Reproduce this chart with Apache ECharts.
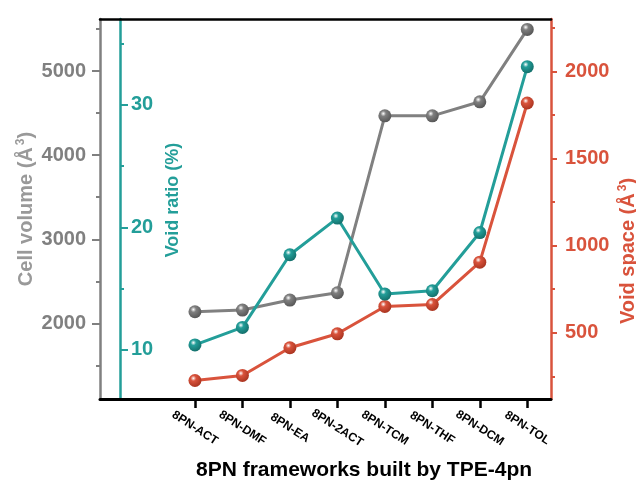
<!DOCTYPE html>
<html>
<head>
<meta charset="utf-8">
<script src="https://cdn.jsdelivr.net/npm/echarts@6/dist/echarts.min.js"></script>
<style>html,body{margin:0;padding:0;background:#fff}#c{width:636px;height:485px}</style>
</head>
<body>
<div id="c"></div>
<script>
const categories = ['8PN-ACT','8PN-DMF','8PN-EA','8PN-2ACT','8PN-TCM','8PN-THF','8PN-DCM','8PN-TOL'];
const cellVolume = [2138, 2158, 2277, 2364, 4468, 4468, 4635, 5496];
const voidRatio = [10.41, 11.84, 17.77, 20.76, 14.56, 14.83, 19.58, 33.11];
const voidSpace = [226, 255, 414, 494, 651, 662, 905, 1818];
const cellTicks = [2000, 3000, 4000, 5000];
const cellMinor = [1500, 2500, 3500, 4500, 5500];
const ratioTicks = [10, 20, 30];
const ratioMinor = [15, 25, 35];
const spaceTicks = [500, 1000, 1500, 2000];
const spaceMinor = [250, 750, 1250, 1750, 2250];

const FONT = "'Liberation Sans', Arial, sans-serif";
const GRAY = '#808080', TEAL = '#239E99', RED = '#D9533C';
const catIdx = categories.map((_, i) => i);

function sphere(base, dark) {
  return {type: 'radial', x: 0.38, y: 0.33, r: 0.7,
    colorStops: [{offset: 0, color: '#ffffff'}, {offset: 0.3, color: base}, {offset: 1, color: dark}]};
}
function pairs(arr) { return arr.map((v, i) => [i, v]); }
const plain = v => String(v);

const chart = echarts.init(document.getElementById('c'), null, {renderer: 'canvas'});
const supRich = {sup: {fontSize: 12, verticalAlign: 'top', padding: [0, 0, 10, 2], fontWeight: 'bold', fontFamily: FONT}};

function minorAxis(min, max, color, vals, pos, offset, inside) {
  return {
    type: 'value', min: min, max: max, position: pos, offset: offset,
    axisLine: {show: false, onZero: false}, splitLine: {show: false},
    axisLabel: {show: false},
    axisTick: {show: true, length: 4, inside: inside, customValues: vals, lineStyle: {color: color, width: 2}}
  };
}

chart.setOption({
  animation: false,
  grid: {left: 100, right: 85, top: 19, bottom: 86, containLabel: false, outerBoundsMode: 'none'},
  xAxis: [{
    type: 'value', min: -2, max: 7.5, position: 'bottom',
    splitLine: {show: false},
    axisLine: {show: true, onZero: false, lineStyle: {color: '#000', width: 3}},
    axisTick: {show: true, length: 9, customValues: catIdx, lineStyle: {color: '#000', width: 2.5}},
    axisLabel: {
      show: true, customValues: catIdx, rotate: -33, align: 'center', verticalAlign: 'middle', margin: 29,
      formatter: v => categories[Math.round(v)] || '',
      fontSize: 12, fontWeight: 'bold', color: '#000', fontFamily: FONT
    },
    name: '8PN frameworks built by TPE-4pn', nameLocation: 'middle', nameGap: 61, nameMoveOverlap: false,
    nameTextStyle: {fontSize: 21, fontWeight: 'bold', color: '#000', fontFamily: FONT, padding: [0, 0, 0, 77]}
  }, {
    type: 'value', min: -2, max: 7.5, position: 'top',
    splitLine: {show: false}, axisTick: {show: false}, axisLabel: {show: false},
    axisLine: {show: true, onZero: false, lineStyle: {color: '#000', width: 2.5}}
  }],
  yAxis: [{
    type: 'value', min: 1100, max: 5620, position: 'left',
    splitLine: {show: false},
    axisLine: {show: true, onZero: false, lineStyle: {color: GRAY, width: 2.5}},
    axisTick: {show: true, length: 8, customValues: cellTicks, lineStyle: {color: GRAY, width: 2}},
    axisLabel: {show: true, customValues: cellTicks, formatter: plain, margin: 14, fontSize: 20, fontWeight: 'bold', color: GRAY, fontFamily: FONT},
    name: 'Cell volume (Å{sup|3})', nameLocation: 'middle', nameGap: 63, nameMoveOverlap: false,
    nameTextStyle: {fontSize: 20, fontWeight: 'bold', color: '#999999', fontFamily: FONT, rich: supRich}
  },
  minorAxis(1100, 5620, GRAY, cellMinor, 'left', 0, false),
  {
    type: 'value', min: 6, max: 37, position: 'left', offset: -20,
    splitLine: {show: false},
    axisLine: {show: true, onZero: false, lineStyle: {color: TEAL, width: 2.5}},
    axisTick: {show: true, inside: true, length: 8, customValues: ratioTicks, lineStyle: {color: TEAL, width: 2}},
    axisLabel: {show: true, inside: true, customValues: ratioTicks, formatter: plain, margin: 11, fontSize: 20, fontWeight: 'bold', color: TEAL, fontFamily: FONT},
    name: 'Void ratio (%)', nameLocation: 'middle', nameGap: -62, nameMoveOverlap: false,
    nameTextStyle: {fontSize: 18, fontWeight: 'bold', color: TEAL, fontFamily: FONT, padding: [0, 0, 0, 18]}
  },
  minorAxis(6, 37, TEAL, ratioMinor, 'left', -20, true),
  {
    type: 'value', min: 120, max: 2300, position: 'right',
    splitLine: {show: false},
    axisLine: {show: true, onZero: false, lineStyle: {color: RED, width: 2.5}},
    axisTick: {show: true, length: 6, customValues: spaceTicks, lineStyle: {color: RED, width: 2}},
    axisLabel: {show: true, customValues: spaceTicks, formatter: plain, margin: 14, fontSize: 20, fontWeight: 'bold', color: RED, fontFamily: FONT},
    name: 'Void space (Å{sup|3})', nameLocation: 'middle', nameGap: 66, nameMoveOverlap: false,
    nameTextStyle: {fontSize: 20, fontWeight: 'bold', color: RED, fontFamily: FONT, rich: supRich, padding: [0, 84, 0, 0]}
  },
  minorAxis(120, 2300, RED, spaceMinor, 'right', 0, false)
  ],
  series: [{
    type: 'line', name: 'Cell volume', xAxisIndex: 0, yAxisIndex: 0, data: pairs(cellVolume),
    symbol: 'circle', symbolSize: 13, lineStyle: {color: GRAY, width: 3},
    itemStyle: {color: sphere(GRAY, '#555555')}, z: 2
  }, {
    type: 'line', name: 'Void space', xAxisIndex: 0, yAxisIndex: 4, data: pairs(voidSpace),
    symbol: 'circle', symbolSize: 13, lineStyle: {color: RED, width: 3},
    itemStyle: {color: sphere(RED, '#a8331f')}, z: 3
  }, {
    type: 'line', name: 'Void ratio', xAxisIndex: 0, yAxisIndex: 2, data: pairs(voidRatio),
    symbol: 'circle', symbolSize: 13, lineStyle: {color: TEAL, width: 3},
    itemStyle: {color: sphere(TEAL, '#136e6a')}, z: 4
  }]
});
</script>
</body>
</html>
